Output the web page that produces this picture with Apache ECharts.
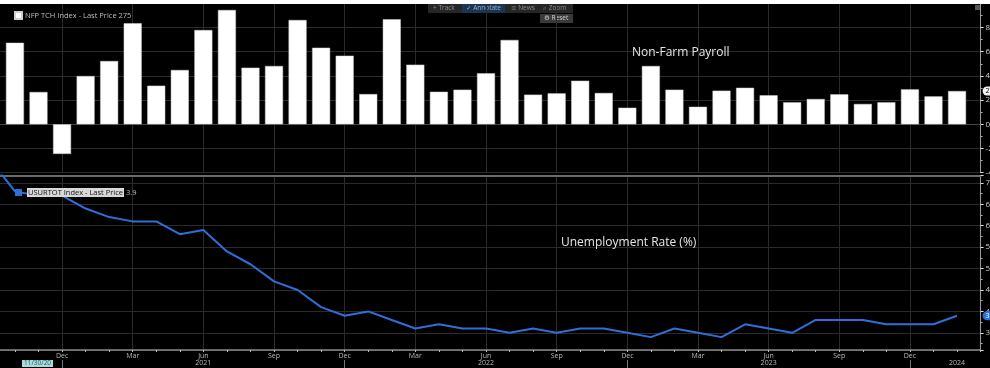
<!DOCTYPE html>
<html>
<head>
<meta charset="utf-8">
<script src="https://cdn.jsdelivr.net/npm/echarts@6/dist/echarts.min.js"></script>
<style>
html,body{margin:0;padding:0;background:#000;}
#chart{width:990px;height:368px;}
</style>
</head>
<body>
<div id="chart"></div>
<script>
// Monthly categories (Sep 2020 .. Mar 2024); first/last are edge padding months
const months = ['2020-09','2020-10','2020-11','2020-12',
  '2021-01','2021-02','2021-03','2021-04','2021-05','2021-06','2021-07','2021-08','2021-09','2021-10','2021-11','2021-12',
  '2022-01','2022-02','2022-03','2022-04','2022-05','2022-06','2022-07','2022-08','2022-09','2022-10','2022-11','2022-12',
  '2023-01','2023-02','2023-03','2023-04','2023-05','2023-06','2023-07','2023-08','2023-09','2023-10','2023-11','2023-12',
  '2024-01','2024-02','2024-03'];
// Non-farm payroll change (thousands)
const nfp = [null, 674, 267, -245, 399, 523, 835, 319, 449, 779, 945, 468, 482, 862, 633, 567, 250, 868, 493, 269, 286,
  421, 697, 245, 256, 360, 259, 137, 482, 286, 145, 278, 302, 240, 182, 209, 248, 168, 182, 289, 231, 275, null];
// Unemployment rate (%)
const unrate = [7.5, 6.8, 6.7, 6.7, 6.4, 6.2, 6.1, 6.1, 5.8, 5.9, 5.4, 5.1, 4.7, 4.5, 4.1, 3.9, 4.0, 3.8, 3.6, 3.7, 3.6,
  3.6, 3.5, 3.6, 3.5, 3.6, 3.6, 3.5, 3.4, 3.6, 3.5, 3.4, 3.7, 3.6, 3.5, 3.8, 3.8, 3.8, 3.7, 3.7, 3.7, 3.9, null];
const monthNames = ['Jan','Feb','Mar','Apr','May','Jun','Jul','Aug','Sep','Oct','Nov','Dec'];
// year labels shown under these months
const yearLabelMonths = ['2021-06','2022-06','2023-06','2024-02'];

const lastIdx = 41;
const lastNfp = nfp[lastIdx];
const lastRate = unrate[lastIdx];

const isQuarterTick = (i) => { const m = +months[i].slice(5); return m % 3 === 0; };
const isDec = (i) => months[i].slice(5) === '12';

const gridColor = '#2b2b2b';
const fontFam = '"Open Sans", "DejaVu Sans", sans-serif';

const chart = echarts.init(document.getElementById('chart'), null, {renderer: 'canvas'});

const baseX = {
  type: 'category', data: months, boundaryGap: false
};

chart.setOption({
  backgroundColor: '#000',
  animation: false,
  grid: [
    {left: -8.6, right: 9.4, top: 3.3, height: 169.4, outerBoundsMode: 'none', containLabel: false},
    {left: -8.6, right: 9.4, top: 175.5, bottom: 18, outerBoundsMode: 'none', containLabel: false}
  ],
  legend: [
    {
      data: ['NFP TCH Index'], left: 9, top: 6, itemWidth: 7, itemHeight: 7, itemGap: 3,
      icon: 'rect', selectedMode: false,
      textStyle: {color: '#bdbdbd', fontSize: 7.5, fontFamily: fontFam, padding: [0,0,0,-2]},
      formatter: (n) => n + ' - Last Price ' + lastNfp
    },
    {
      data: ['USURTOT Index'], left: 10, top: 183, itemWidth: 7, itemHeight: 7, itemGap: 3,
      icon: 'rect', selectedMode: false,
      textStyle: {
        color: '#bdbdbd', fontSize: 7.5, fontFamily: fontFam,
        rich: {
          a: {color: '#111', backgroundColor: '#d8d8d8', fontSize: 7.5, padding: [1,1,0,1], fontFamily: fontFam},
          b: {color: '#bdbdbd', fontSize: 7.5, fontFamily: fontFam}
        }
      },
      formatter: (n) => '{a|' + n + ' - Last Price}{b| ' + lastRate + '}'
    }
  ],
  title: [
    {text: 'Non-Farm Payroll', left: 627, top: 42, textStyle: {color: '#e6e6e6', fontSize: 12, fontWeight: 'normal', fontFamily: fontFam}},
    {text: 'Unemployment Rate (%)', left: 556, top: 232, textStyle: {color: '#e6e6e6', fontSize: 12, fontWeight: 'normal', fontFamily: fontFam}}
  ],
  xAxis: [
    Object.assign({}, baseX, {
      gridIndex: 0, position: 'bottom',
      axisLine: {show: true, lineStyle: {color: '#444', width: 1}},
      axisTick: {show: false}, axisLabel: {show: false},
      splitLine: {show: true, interval: (i) => isQuarterTick(i), lineStyle: {color: gridColor, width: 1}}
    }),
    Object.assign({}, baseX, {
      gridIndex: 1, position: 'bottom',
      axisLine: {show: true, lineStyle: {color: '#8a8a8a', width: 1.5}},
      axisTick: {show: true, interval: 0, length: 2, lineStyle: {color: '#bbb'}},
      axisLabel: {
        show: true, interval: (i) => isQuarterTick(i) && i > 0 && i < months.length - 1,
        formatter: (v) => monthNames[+v.slice(5) - 1],
        color: '#b8b8b8', fontSize: 7, margin: 2, fontFamily: fontFam
      },
      splitLine: {show: true, interval: (i) => isQuarterTick(i), lineStyle: {color: gridColor, width: 1}}
    }),
    Object.assign({}, baseX, {
      gridIndex: 1, position: 'bottom', offset: 10,
      axisLine: {show: false},
      axisTick: {show: true, interval: (i) => isDec(i), length: 8, lineStyle: {color: '#777'}},
      axisLabel: {
        show: true, interval: (i) => yearLabelMonths.indexOf(months[i]) >= 0,
        formatter: (v) => v.slice(0, 4),
        color: '#b8b8b8', fontSize: 7, margin: -1, fontFamily: fontFam
      },
      splitLine: {show: false}
    }),
    Object.assign({}, baseX, {
      gridIndex: 1, position: 'top',
      axisLine: {show: true, lineStyle: {color: '#6a6a6a', width: 2}},
      axisTick: {show: false}, axisLabel: {show: false}, splitLine: {show: false}
    })
  ],
  yAxis: [
    {
      type: 'value', gridIndex: 0, position: 'right', min: -400, max: 1000, interval: 200,
      axisLine: {show: true, lineStyle: {color: '#9a9a9a'}},
      axisTick: {show: true, length: 3, lineStyle: {color: '#ddd'}},
      minorTick: {show: true, splitNumber: 2, length: 2, lineStyle: {color: '#aaa'}},
      axisLabel: {show: true, color: '#cfcfcf', fontSize: 8, margin: 5, fontFamily: fontFam, showMaxLabel: false},
      splitLine: {show: true, lineStyle: {color: gridColor, width: 1}}
    },
    {
      type: 'value', gridIndex: 1, position: 'right', min: 3.1, max: 7.17, splitNumber: 8,
      axisLine: {show: true, lineStyle: {color: '#9a9a9a'}},
      axisTick: {show: true, length: 3, lineStyle: {color: '#ddd'}},
      minorTick: {show: true, splitNumber: 2, length: 2, lineStyle: {color: '#aaa'}},
      axisLabel: {show: true, color: '#cfcfcf', fontSize: 8, margin: 5, fontFamily: fontFam, showMinLabel: false, showMaxLabel: false},
      splitLine: {show: true, lineStyle: {color: gridColor, width: 1}}
    }
  ],
  series: [
    {
      name: 'NFP TCH Index', type: 'bar', xAxisIndex: 0, yAxisIndex: 0,
      data: nfp, barWidth: 18,
      itemStyle: {color: '#ffffff', borderColor: '#cfcfcf', borderWidth: 0.5},
      markLine: {
        silent: true, symbol: 'none', z: 10,
        lineStyle: {color: 'rgba(0,0,0,0)', width: 1},
        label: {show: true, position: 'end', distance: 2, formatter: String(lastNfp),
          color: '#000', backgroundColor: '#f2f2f2', borderRadius: 5, padding: [1,3], fontSize: 7, fontFamily: fontFam},
        data: [[{coord: [months[lastIdx], lastNfp]}, {coord: [months[lastIdx + 1], lastNfp]}]]
      }
    },
    {
      name: 'USURTOT Index', type: 'line', xAxisIndex: 1, yAxisIndex: 1,
      data: unrate, showSymbol: false, symbol: 'none',
      lineStyle: {color: '#2f6fd9', width: 2},
      itemStyle: {color: '#2f6fd9'},
      markLine: {
        silent: true, symbol: 'none', z: 10,
        lineStyle: {color: 'rgba(0,0,0,0)', width: 1},
        label: {show: true, position: 'end', distance: 2, formatter: String(lastRate),
          color: '#fff', backgroundColor: '#2f6fd9', borderRadius: 5, padding: [1,3], fontSize: 7, fontFamily: fontFam},
        data: [[{coord: [months[lastIdx], lastRate]}, {coord: [months[lastIdx + 1], lastRate]}]]
      }
    }
  ],
  graphic: [
    {type: 'rect', left: 0, top: 0, shape: {width: 990, height: 4}, style: {fill: '#ffffff'}, z: 100},
    {type: 'group', left: 428, top: 4, z: 100, children: [
      {type: 'rect', shape: {x: 0, y: 0, width: 145, height: 9}, style: {fill: '#262626'}},
      {type: 'rect', shape: {x: 34, y: 0, width: 43, height: 9}, style: {fill: '#1c3552'}},
      {type: 'text', x: 5, y: 1, style: {text: '+ Track', fill: '#8c8c8c', fontSize: 6.5, fontFamily: fontFam}},
      {type: 'text', x: 38, y: 1, style: {text: '\u2713 Annotate', fill: '#8fb3d9', fontSize: 6.5, fontFamily: fontFam}},
      {type: 'text', x: 83, y: 1, style: {text: '\u2261 News', fill: '#8c8c8c', fontSize: 6.5, fontFamily: fontFam}},
      {type: 'text', x: 115, y: 1, style: {text: '\u2315 Zoom', fill: '#8c8c8c', fontSize: 6.5, fontFamily: fontFam}},
      {type: 'rect', shape: {x: 112, y: 10, width: 33, height: 9}, style: {fill: '#3a3a3a'}},
      {type: 'text', x: 116, y: 11, style: {text: '\u2699 Reset', fill: '#d0d0d0', fontSize: 6.5, fontFamily: fontFam}}
    ]},
    {type: 'rect', left: 975, top: 5, shape: {width: 5, height: 5}, style: {fill: '#555'}, z: 100},
    {type: 'group', left: 22, top: 360, z: 100, children: [
      {type: 'rect', shape: {x: 0, y: 0, width: 31, height: 7}, style: {fill: '#a9dcdc'}},
      {type: 'text', x: 2, y: 0, style: {text: '11/30/20', fill: '#1e5a60', fontSize: 6.5, fontFamily: fontFam}}
    ]}
  ]
});
</script>
</body>
</html>
